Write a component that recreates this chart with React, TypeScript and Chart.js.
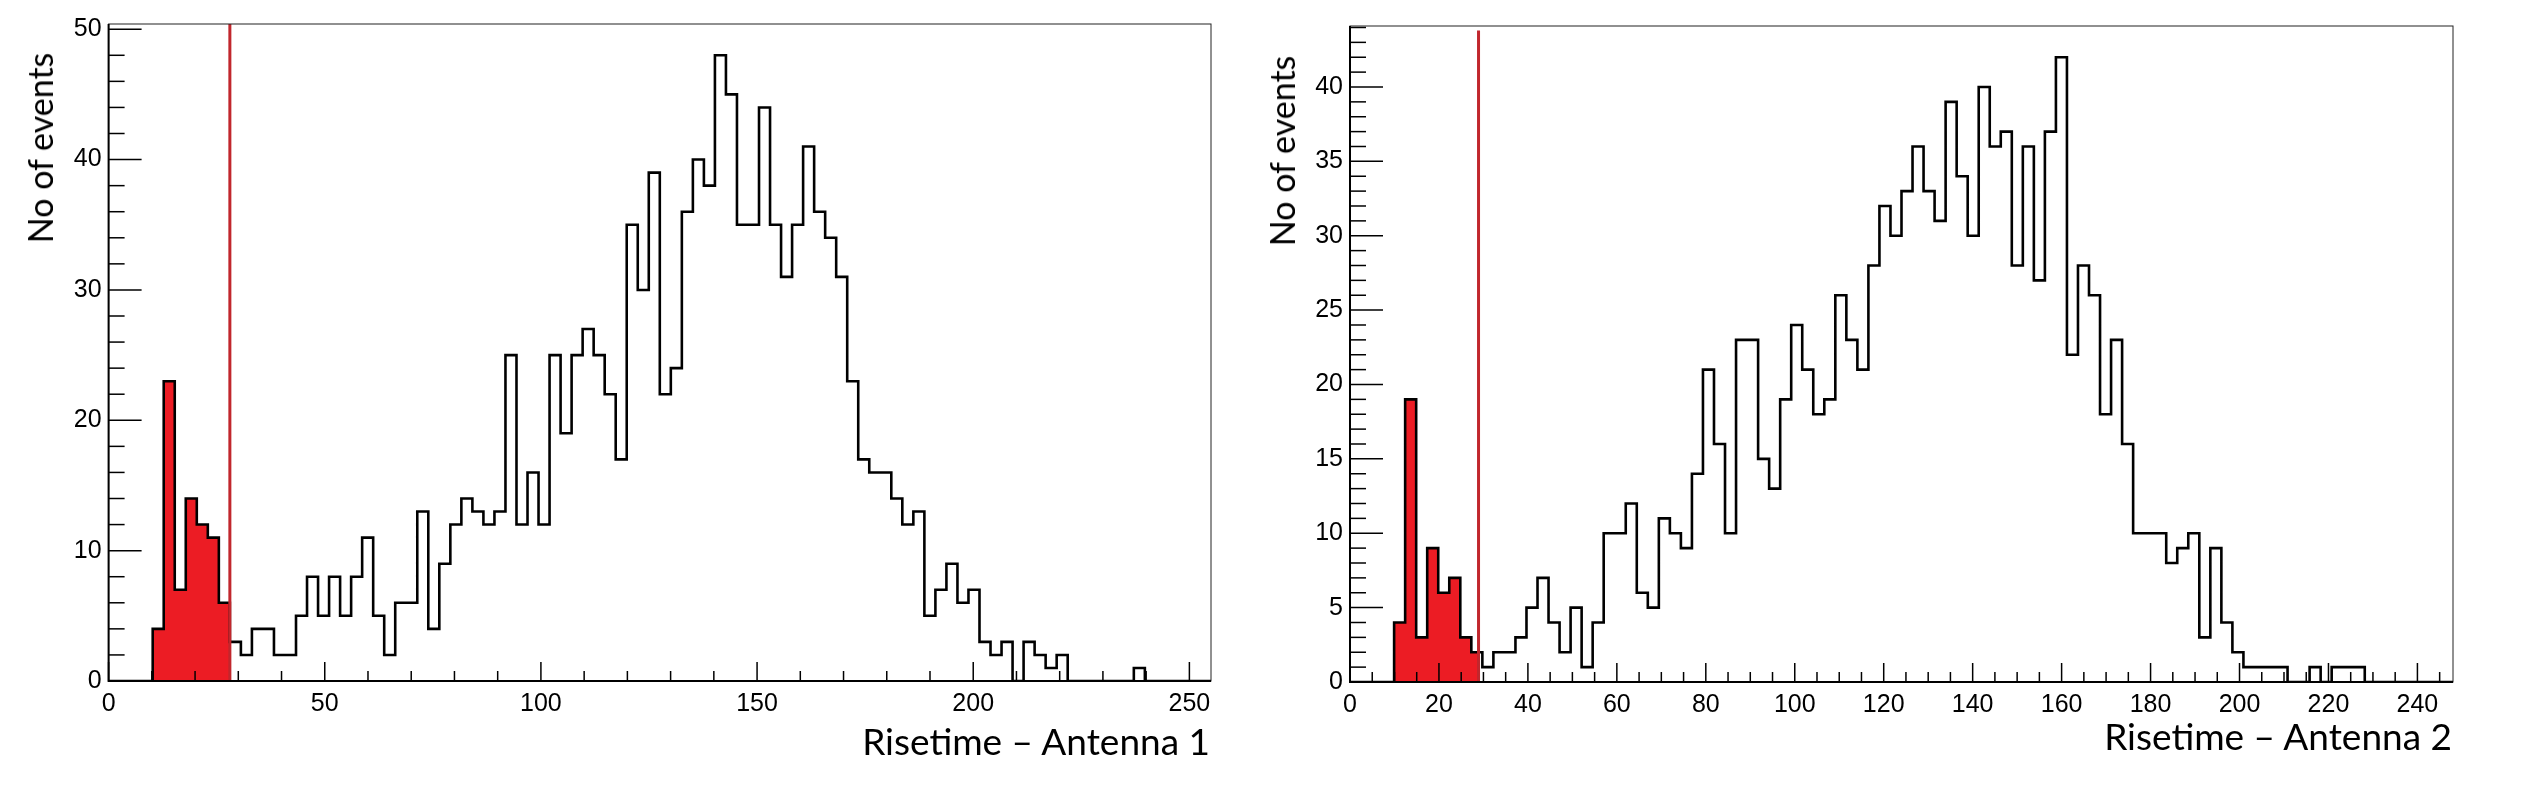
import React, { useEffect, useRef } from "react";
import { Chart, registerables } from "chart.js";

Chart.register(...registerables);

// ---------------- data ----------------
const NBINS = 100;

const antenna1Range = [0, 255];
const antenna1Counts = [
  0, 0, 0, 0, 4, 23, 7, 14, 12, 11,
  6, 3, 2, 4, 4, 2, 2, 5, 8, 5,
  8, 5, 8, 11, 5, 2, 6, 6, 13, 4,
  9, 12, 14, 13, 12, 13, 25, 12, 16, 12,
  25, 19, 25, 27, 25, 22, 17, 35, 30, 39,
  22, 24, 36, 40, 38, 48, 45, 35, 35, 44,
  35, 31, 35, 41, 36, 34, 31, 23, 17, 16,
  16, 14, 12, 13, 5, 7, 9, 6, 7, 3,
  2, 3, 0, 3, 2, 1, 2, 0, 0, 0,
  0, 0, 0, 1, 0, 0, 0, 0, 0, 0,
];
const antenna1Cut = 28.05;
const antenna1CutTop = 50.4;
const antenna1XTicks = [0, 50, 100, 150, 200, 250];
const antenna1YTicks = [0, 10, 20, 30, 40, 50];
const antenna1XMinor = 10;
const antenna1YMinor = 2;
const antenna1Title = "Risetime \u2013 Antenna 1";

const antenna2Range = [0, 248];
const antenna2Counts = [
  0, 0, 0, 0, 4, 19, 3, 9, 6, 7,
  3, 2, 1, 2, 2, 3, 5, 7, 4, 2,
  5, 1, 4, 10, 10, 12, 6, 5, 11, 10,
  9, 14, 21, 16, 10, 23, 23, 15, 13, 19,
  24, 21, 18, 19, 26, 23, 21, 28, 32, 30,
  33, 36, 33, 31, 39, 34, 30, 40, 36, 37,
  28, 36, 27, 37, 42, 22, 28, 26, 18, 23,
  16, 10, 10, 10, 8, 9, 10, 3, 9, 4,
  2, 1, 1, 1, 1, 0, 0, 1, 0, 1,
  1, 1, 0, 0, 0, 0, 0, 0, 0, 0,
];
const antenna2Cut = 28.9;
const antenna2CutTop = 43.8;
const antenna2XTicks = [0, 20, 40, 60, 80, 100, 120, 140, 160, 180, 200, 220, 240];
const antenna2YTicks = [0, 5, 10, 15, 20, 25, 30, 35, 40];
const antenna2XMinor = 5;
const antenna2YMinor = 1;
const antenna2Title = "Risetime \u2013 Antenna 2";

const yAxisTitle = "No of events";

// ---------------- styling ----------------
const CANVAS_W = 1267;
const CANVAS_H = 800;
const TITLE_FONT = "Lato, 'Open Sans', sans-serif";
const TICK_FONT = "'Liberation Sans', Arial, sans-serif";
const FILL_RED = "#ec1c24";
const LINE_RED = "#c1272d";

const rootAxesPlugin = {
  id: "rootAxes",
  afterDatasetsDraw(chart: any, _args: any, opts: any) {
    const { ctx, chartArea: a, scales } = chart;
    const x = scales.x;
    const y = scales.y;
    ctx.save();
    ctx.strokeStyle = "#000";
    ctx.lineWidth = 1.5;
    const nx = Math.floor((x.max - x.min) / opts.xMinor + 1e-6);
    for (let k = 0; k <= nx; k++) {
      const v = x.min + k * opts.xMinor;
      const px = x.getPixelForValue(v);
      const len = opts.xMajor.includes(v) ? 19 : 10;
      ctx.beginPath();
      ctx.moveTo(px, a.bottom);
      ctx.lineTo(px, a.bottom - len);
      ctx.stroke();
    }
    const ny = Math.floor((y.max - y.min) / opts.yMinor + 1e-6);
    for (let k = 0; k <= ny; k++) {
      const v = y.min + k * opts.yMinor;
      const py = y.getPixelForValue(v);
      const len = opts.yMajor.includes(v) ? 33 : 16;
      ctx.beginPath();
      ctx.moveTo(a.left, py);
      ctx.lineTo(a.left + len, py);
      ctx.stroke();
    }
    ctx.lineWidth = 1;
    ctx.strokeStyle = "#222";
    ctx.strokeRect(a.left, a.top, a.right - a.left, a.bottom - a.top);
    ctx.lineWidth = 2;
    ctx.strokeStyle = "#000";
    ctx.beginPath();
    ctx.moveTo(a.left, a.top);
    ctx.lineTo(a.left, a.bottom);
    ctx.lineTo(a.right, a.bottom);
    ctx.stroke();
    ctx.restore();
  },
};

type HistProps = {
  counts: number[];
  range: number[];
  cut: number;
  cutTop: number;
  xTicks: number[];
  yTicks: number[];
  xMinor: number;
  yMinor: number;
  area: { left: number; right: number; top: number; bottom: number };
};

function RootHistogram(props: HistProps) {
  const ref = useRef<HTMLCanvasElement | null>(null);
  useEffect(() => {
    const { counts, range, cut, cutTop, xTicks, yTicks, xMinor, yMinor, area } = props;
    const w = (range[1] - range[0]) / NBINS;
    const outline = counts.map((c, i) => ({ x: range[0] + i * w, y: c }));
    outline.push({ x: range[1], y: counts[counts.length - 1] });
    const fillPts: { x: number; y: number }[] = [];
    counts.forEach((c, i) => {
      const x0 = range[0] + i * w;
      if (x0 < cut - 1e-9) fillPts.push({ x: x0, y: c });
    });
    fillPts.push({ x: cut, y: fillPts[fillPts.length - 1].y });
    const yMax = Math.max(...counts) * 1.05;

    const chart = new Chart(ref.current as HTMLCanvasElement, {
      type: "line",
      data: {
        datasets: [
          {
            data: [
              { x: cut, y: 0 },
              { x: cut, y: cutTop },
            ],
            borderColor: LINE_RED,
            borderWidth: 3,
            pointRadius: 0,
            fill: false,
            order: 0,
          },
          {
            data: outline,
            stepped: "before",
            borderColor: "#000",
            borderWidth: 2.6,
            borderJoinStyle: "miter",
            pointRadius: 0,
            fill: false,
            order: 1,
          },
          {
            data: fillPts,
            stepped: "before",
            borderWidth: 0,
            borderColor: "rgba(0,0,0,0)",
            backgroundColor: FILL_RED,
            pointRadius: 0,
            fill: "origin",
            order: 2,
          },
        ] as any,
      },
      options: {
        responsive: false,
        animation: false,
        events: [],
        layout: {
          padding: { left: 0, top: area.top, right: CANVAS_W - area.right, bottom: 0 },
        },
        plugins: {
          legend: { display: false },
          tooltip: { enabled: false },
          rootAxes: { xMajor: xTicks, yMajor: yTicks, xMinor, yMinor },
        } as any,
        scales: {
          x: {
            type: "linear",
            min: range[0],
            max: range[1],
            grid: { display: false, drawTicks: false },
            border: { display: false },
            afterFit: (s: any) => {
              s.height = CANVAS_H - area.bottom;
            },
            afterBuildTicks: (s: any) => {
              s.ticks = xTicks.map((v) => ({ value: v }));
            },
            ticks: {
              font: { family: TICK_FONT, size: 25 },
              color: "#000",
              padding: 8,
              maxRotation: 0,
              autoSkip: false,
            },
          },
          y: {
            type: "linear",
            min: 0,
            max: yMax,
            grid: { display: false, drawTicks: false },
            border: { display: false },
            afterFit: (s: any) => {
              s.width = area.left;
            },
            afterBuildTicks: (s: any) => {
              s.ticks = yTicks.map((v) => ({ value: v }));
            },
            ticks: {
              font: { family: TICK_FONT, size: 25 },
              color: "#000",
              padding: 7,
              autoSkip: false,
            },
          },
        },
      },
      plugins: [rootAxesPlugin],
    });
    return () => chart.destroy();
  }, []);
  return <canvas ref={ref} width={CANVAS_W} height={CANVAS_H} style={{ display: "block" }} />;
}

const titleStyle: React.CSSProperties = {
  position: "absolute",
  fontFamily: TITLE_FONT,
  lineHeight: "1",
  color: "#000",
  whiteSpace: "nowrap",
};

export default function App() {
  return (
    <div
      style={{
        position: "fixed",
        left: 0,
        top: 0,
        width: 2534,
        height: 800,
        background: "#fff",
        overflow: "hidden",
      }}
    >
      <div style={{ position: "absolute", left: 0, top: 0 }}>
        <RootHistogram
          counts={antenna1Counts}
          range={antenna1Range}
          cut={antenna1Cut}
          cutTop={antenna1CutTop}
          xTicks={antenna1XTicks}
          yTicks={antenna1YTicks}
          xMinor={antenna1XMinor}
          yMinor={antenna1YMinor}
          area={{ left: 108.6, right: 1211, top: 24, bottom: 681 }}
        />
      </div>
      <div style={{ position: "absolute", left: CANVAS_W, top: 0 }}>
        <RootHistogram
          counts={antenna2Counts}
          range={antenna2Range}
          cut={antenna2Cut}
          cutTop={antenna2CutTop}
          xTicks={antenna2XTicks}
          yTicks={antenna2YTicks}
          xMinor={antenna2XMinor}
          yMinor={antenna2YMinor}
          area={{ left: 83, right: 1186, top: 26, bottom: 682 }}
        />
      </div>
      <div
        style={{ ...titleStyle, fontSize: 34, left: 40, top: 148, transform: "translate(-50%,-50%) rotate(-90deg)" }}
      >
        {yAxisTitle}
      </div>
      <div
        style={{ ...titleStyle, fontSize: 34, left: 1282, top: 151, transform: "translate(-50%,-50%) rotate(-90deg)" }}
      >
        {yAxisTitle}
      </div>
      <div style={{ ...titleStyle, fontSize: 37, left: 1210, top: 722, transform: "translate(-100%,0)" }}>
        {antenna1Title}
      </div>
      <div style={{ ...titleStyle, fontSize: 37, left: 2452, top: 717, transform: "translate(-100%,0)" }}>
        {antenna2Title}
      </div>
    </div>
  );
}
